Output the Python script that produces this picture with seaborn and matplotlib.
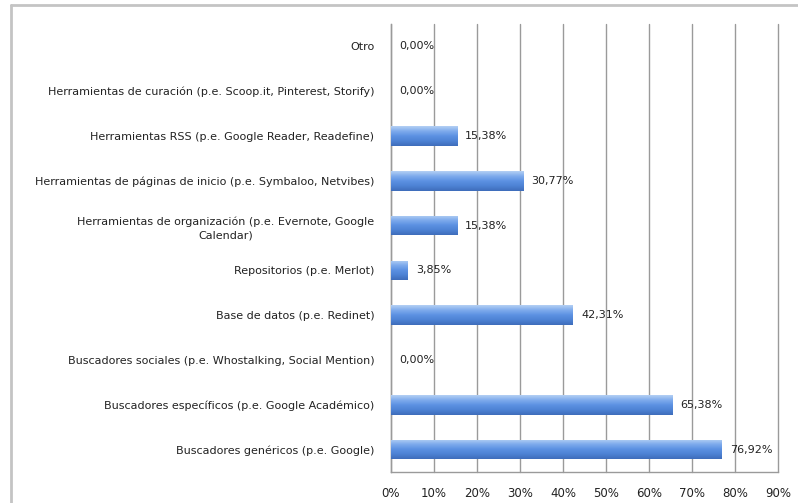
import numpy as np
import pandas as pd
import seaborn as sns
import matplotlib.pyplot as plt
from matplotlib.colors import LinearSegmentedColormap
from matplotlib.lines import Line2D
from matplotlib.ticker import FixedLocator

categories = [
    "Otro",
    "Herramientas de curación (p.e. Scoop.it, Pinterest, Storify)",
    "Herramientas RSS (p.e. Google Reader, Readefine)",
    "Herramientas de páginas de inicio (p.e. Symbaloo, Netvibes)",
    "Herramientas de organización (p.e. Evernote, Google\nCalendar)",
    "Repositorios (p.e. Merlot)",
    "Base de datos (p.e. Redinet)",
    "Buscadores sociales (p.e. Whostalking, Social Mention)",
    "Buscadores específicos (p.e. Google Académico)",
    "Buscadores genéricos (p.e. Google)",
]
values = [0.00, 0.00, 15.38, 30.77, 15.38, 3.85, 42.31, 0.00, 65.38, 76.92]
x_ticks = [0, 10, 20, 30, 40, 50, 60, 70, 80, 90]

df = pd.DataFrame({"categoria": categories, "valor": values})

sns.set_style("white")
plt.rcParams["font.family"] = ["DejaVu Sans"]

fig = plt.figure(figsize=(7.98, 5.03), dpi=100)
ax = fig.add_axes([391 / 798, 1 - 472 / 503, (778 - 391) / 798, (472 - 24) / 503])

sns.barplot(data=df, x="valor", y="categoria", order=categories, orient="h",
            color="#5a8edc", width=0.44, edgecolor="none", ax=ax)

# gradient fill on the bars
cmap = LinearSegmentedColormap.from_list(
    "bar", ["#b3cff4", "#7eabec", "#5c91e2", "#4d82d4", "#3e6dbb"])
grad = np.linspace(0, 1, 64).reshape(-1, 1)
for p in list(ax.patches):
    x0, y0 = p.get_x(), p.get_y()
    w, h = p.get_width(), p.get_height()
    if w <= 0:
        continue
    im = ax.imshow(grad, cmap=cmap, aspect="auto", origin="upper",
                   extent=(x0, x0 + w, y0 + h, y0), zorder=3)
    im.set_clip_path(p)
    p.set_facecolor("none")
ax.set_xlim(0, 90)
ax.set_ylim(len(categories) - 0.5, -0.5)

# value labels
for i, v in enumerate(values):
    ax.text(v + 1.9, i, f"{v:.2f}%".replace(".", ","), va="center", ha="left",
            fontsize=8, color="#222222", zorder=4)

ax.xaxis.set_major_locator(FixedLocator(x_ticks))
ax.set_xticklabels([f"{t}%" for t in x_ticks], fontsize=8.5, color="#222222")
ax.grid(axis="x", color="#9a9a9a", linewidth=1)
for gl in ax.get_xgridlines():
    gl.set_clip_on(False)
ax.set_axisbelow(True)
ax.tick_params(axis="x", length=5, width=1, color="#9a9a9a", direction="out", pad=6)

ax.tick_params(axis="y", which="major", length=0, pad=12, labelsize=8, labelcolor="#222222")
ax.yaxis.set_minor_locator(FixedLocator(np.arange(-0.5, len(categories), 1)))
ax.tick_params(axis="y", which="minor", length=4, width=1, color="#9a9a9a", direction="out")
for lbl in ax.get_yticklabels():
    lbl.set_multialignment("center")
    lbl.set_linespacing(1.45)

ax.set_xlabel("")
ax.set_ylabel("")
for side in ["top", "right"]:
    ax.spines[side].set_visible(False)
for side in ["left", "bottom"]:
    ax.spines[side].set_color("#9a9a9a")
    ax.spines[side].set_linewidth(1)

# light frame around the chart
fig.add_artist(Line2D([11 / 798, 11 / 798], [0, 1 - 5 / 503], transform=fig.transFigure,
                      color="#c4c4c4", linewidth=2))
fig.add_artist(Line2D([11 / 798, 1], [1 - 5 / 503, 1 - 5 / 503], transform=fig.transFigure,
                      color="#c4c4c4", linewidth=2))

fig.savefig("out.png", dpi=100)
